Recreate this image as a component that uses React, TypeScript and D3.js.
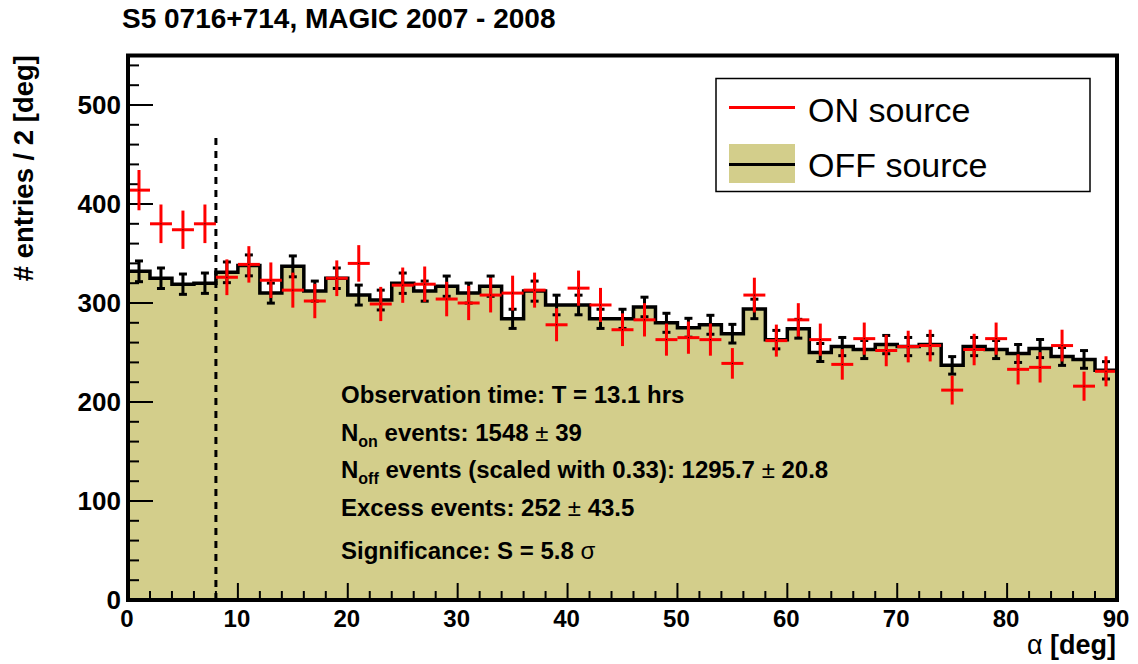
import React from "react"
import * as d3 from "d3"

// alpha histogram, 2 deg bins from 0 to 90
const binEdges = d3.range(0, 92, 2)

const onCounts = [
  414, 380, 374, 380, 326, 339, 323, 313, 302, 325,
  340, 299, 318, 319, 304, 300, 308, 310, 313, 278,
  315, 298, 273, 283, 263, 265, 263, 239, 308, 262,
  283, 263, 238, 264, 252, 256, 257, 212, 253, 264,
  233, 235, 257, 216, 231,
]

const offCounts = [
  332, 325, 319, 320, 331, 338, 310, 337, 312, 325,
  308, 303, 320, 312, 317, 310, 317, 284, 312, 298,
  298, 284, 284, 296, 280, 275, 278, 269, 294, 263,
  274, 250, 256, 253, 258, 256, 258, 237, 256, 253,
  249, 254, 246, 243, 232,
]

const offScale = 0.33
const cutAlpha = 8
const cutLineTop = 470

const yTicks = [0, 100, 200, 300, 400, 500]
const xTicks = [0, 10, 20, 30, 40, 50, 60, 70, 80, 90]

const FONT = "'Liberation Sans', Arial, Helvetica, sans-serif"
const FILL = "#d3ce8b"

const W = 1138
const H = 664
const x0 = 128, x1 = 1117
const y0 = 600, y1 = 55.5

export default function App() {
  const x = d3.scaleLinear().domain([0, 90]).range([x0, x1])
  const y = d3.scaleLinear().domain([0, 550]).range([y0, y1])

  const stepPts: [number, number][] = offCounts.map((v, i) => [binEdges[i], v])
  stepPts.push([90, offCounts[offCounts.length - 1]])

  const area = d3.area<[number, number]>()
    .x(d => x(d[0])).y0(y(0)).y1(d => y(d[1]))
    .curve(d3.curveStepAfter)
  const line = d3.line<[number, number]>()
    .x(d => x(d[0])).y(d => y(d[1]))
    .curve(d3.curveStepAfter)

  const yMinor = d3.range(0, 551, 20).filter(v => v % 100 !== 0)
  const xMinor = d3.range(0, 91, 2).filter(v => v % 10 !== 0)

  const statLines = [403, 441, 478, 516, 559]

  return (
    <svg width={W} height={H} style={{ position: "absolute", left: 0, top: 0, background: "#fff" }}
      fontFamily={FONT}>
      <text x={122} y={28} fontSize={28} fontWeight="bold">S5 0716+714, MAGIC 2007 - 2008</text>

      {/* OFF histogram */}
      <path d={area(stepPts) ?? ""} fill={FILL} />

      {/* cut line */}
      <line x1={x(cutAlpha)} x2={x(cutAlpha)} y1={y(0)} y2={y(cutLineTop)}
        stroke="#000" strokeWidth={3} strokeDasharray="7,6" />

      {/* ticks */}
      {yTicks.map(v => (
        <line key={"ym" + v} x1={x0} x2={x0 + 25} y1={y(v)} y2={y(v)} stroke="#000" strokeWidth={2} />
      ))}
      {yMinor.map(v => (
        <line key={"yn" + v} x1={x0} x2={x0 + 11} y1={y(v)} y2={y(v)} stroke="#000" strokeWidth={2} />
      ))}
      {xTicks.map(v => (
        <line key={"xm" + v} x1={x(v)} x2={x(v)} y1={y0} y2={y0 - 17} stroke="#000" strokeWidth={2} />
      ))}
      {xMinor.map(v => (
        <line key={"xn" + v} x1={x(v)} x2={x(v)} y1={y0} y2={y0 - 9} stroke="#000" strokeWidth={2} />
      ))}

      <path d={line(stepPts) ?? ""} fill="none" stroke="#000" strokeWidth={3.5} />

      {/* OFF error bars */}
      {offCounts.map((v, i) => {
        const cx = x(binEdges[i] + 1)
        const e = Math.sqrt(v * offScale)
        return (
          <g key={"oe" + i} stroke="#000" strokeWidth={3}>
            <line x1={cx} x2={cx} y1={y(v - e)} y2={y(v + e)} />
            <line x1={cx - 4} x2={cx + 4} y1={y(v - e)} y2={y(v - e)} />
            <line x1={cx - 4} x2={cx + 4} y1={y(v + e)} y2={y(v + e)} />
          </g>
        )
      })}

      {/* ON points */}
      {onCounts.map((v, i) => {
        const cx = x(binEdges[i] + 1)
        const e = Math.sqrt(v)
        return (
          <g key={"on" + i}>
            <line x1={cx} x2={cx} y1={y(v - e)} y2={y(v + e)} stroke="#ff0000" strokeWidth={3} />
            <line x1={x(binEdges[i])} x2={x(binEdges[i + 1])} y1={y(v)} y2={y(v)} stroke="#ff0000" strokeWidth={3} />
            <rect x={cx - 0.5} y={y(v) - 0.5} width={1} height={1} fill="#000" />
          </g>
        )
      })}

      {/* frame */}
      <rect x={x0} y={y1} width={x1 - x0} height={y0 - y1} fill="none" stroke="#000" strokeWidth={4} />

      {/* axis labels */}
      {yTicks.map(v => (
        <text key={"yl" + v} x={121} y={y(v)} dy="0.36em" textAnchor="end" fontSize={26} fontWeight="bold">{v}</text>
      ))}
      {xTicks.map(v => (
        <text key={"xl" + v} x={x(v) - 1} y={627} textAnchor="middle" fontSize={24} fontWeight="bold">{v}</text>
      ))}
      <text x={1116} y={654} textAnchor="end" fontSize={27} fontWeight="bold">
        <tspan fontWeight="normal">α</tspan> [deg]
      </text>
      <text transform="translate(33,55) rotate(-90)" textAnchor="end" fontSize={27.5} fontWeight="bold">
        # entries / 2 [deg]
      </text>

      {/* statistics */}
      <g fontSize={24} fontWeight="bold">
        <text x={341} y={statLines[0]}>Observation time: T = 13.1 hrs</text>
        <text x={341} y={statLines[1]}>N<tspan fontSize={16} dy={6}>on</tspan><tspan dy={-6}> events: 1548 </tspan><tspan fontWeight="normal">±</tspan> 39</text>
        <text x={341} y={statLines[2]}>N<tspan fontSize={16} dy={6}>off</tspan><tspan dy={-6}> events (scaled with 0.33): 1295.7 </tspan><tspan fontWeight="normal">±</tspan> 20.8</text>
        <text x={341} y={statLines[3]}>Excess events: 252 <tspan fontWeight="normal">±</tspan> 43.5</text>
        <text x={341} y={statLines[4]}>Significance: S = 5.8 <tspan fontWeight="normal">σ</tspan></text>
      </g>

      {/* legend */}
      <g>
        <rect x={716} y={78.5} width={374} height={113} fill="#fff" stroke="#000" strokeWidth={1.5} />
        <line x1={729} x2={795} y1={107.5} y2={107.5} stroke="#ff0000" strokeWidth={3} />
        <text x={808} y={122} fontSize={34}>ON source</text>
        <rect x={729} y={144} width={66} height={39} fill={FILL} />
        <line x1={729} x2={795} y1={164.5} y2={164.5} stroke="#000" strokeWidth={3} />
        <text x={808} y={177} fontSize={34}>OFF source</text>
      </g>
    </svg>
  )
}
